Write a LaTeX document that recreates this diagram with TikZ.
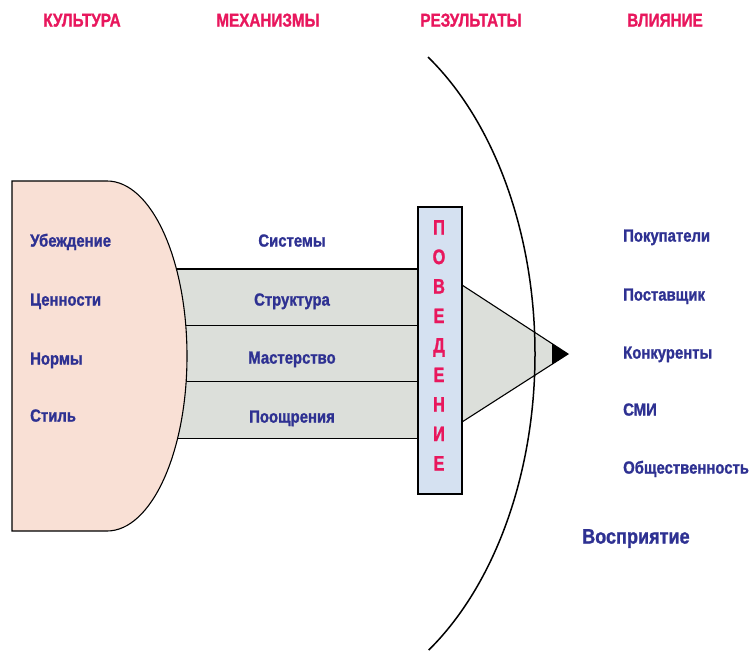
\documentclass[tikz,border=0pt]{standalone}
\usepackage{fontspec}
\setmainfont{Liberation Sans}
\newfontfamily\headf{Liberation Sans Bold}[FakeStretch=0.82,FakeBold=1.2]
\newfontfamily\bodyf{Liberation Sans Bold}[FakeStretch=0.85,FakeBold=1.2]
\newfontfamily\bigf{Liberation Sans Bold}[FakeStretch=0.86,FakeBold=1.2]
\newfontfamily\letf{Liberation Sans Bold}[FakeStretch=0.78,FakeBold=1.2]
\definecolor{hdrpink}{HTML}{E8175D}
\definecolor{txtblue}{HTML}{2E3192}
\definecolor{cultfill}{HTML}{F9E0D5}
\definecolor{bandfill}{HTML}{DCDFDA}
\definecolor{boxblue}{HTML}{D5E1F1}
\tikzset{
  hdr/.style={text=hdrpink, inner sep=0pt, text height=0.716em, text depth=0pt,
    font=\headf\fontsize{18.6}{18.6}\selectfont},
  lbl/.style={text=txtblue, inner sep=0pt, text height=0.716em, text depth=0pt,
    font=\bodyf\fontsize{17.5}{17.5}\selectfont},
  biglbl/.style={lbl, font=\bigf\fontsize{21}{21}\selectfont},
  letter/.style={text=hdrpink, inner sep=0pt, text height=0.716em, text depth=0pt,
    font=\letf\fontsize{21}{21}\selectfont},
  band/.style={draw=black, line width=1.1pt, fill=bandfill, inner sep=0pt,
    minimum width=244pt, minimum height=57pt},
  outline/.style={draw=black, line width=1.1pt},
}
\begin{document}
\begin{tikzpicture}[x=1pt,y=-1pt]
\useasboundingbox (0,0) rectangle (753,651);
% headers
\node[hdr] (hculture) at (82,23) {КУЛЬТУРА};
\node[hdr] (hmech) at (268,23) {МЕХАНИЗМЫ};
\node[hdr] (hres) at (471,23) {РЕЗУЛЬТАТЫ};
\node[hdr] (hinf) at (665,23) {ВЛИЯНИЕ};
% bands
\node[band] (band1) at (297,297.5) {};
\node[band] (band2) at (297,354) {};
\node[band] (band3) at (297,410) {};
% culture shape
\draw[outline, fill=cultfill] (12,181) -- (107,181)
  arc[start angle=-90, end angle=90, x radius=80, y radius=175]
  -- (12,531) -- cycle;
% triangle
\coordinate (apex) at (568,354);
\coordinate (ttop) at (462,285);
\coordinate (tbot) at (462,422);
\draw[outline, fill=bandfill] (ttop) -- (apex) -- (tbot) -- cycle;
% arc
\draw[black, line width=1.5pt] (428,57)
  arc[start angle=-57, end angle=56.8, x radius=235, y radius=354];
% black tip
\coordinate (tipa) at (552,343.6);
\coordinate (tipb) at (552,364.4);
\fill[black] (tipa) -- (apex) -- (tipb) -- cycle;
% behaviour box
\node[outline, fill=boxblue, minimum width=44pt, minimum height=287pt, inner sep=0pt] (beh) at (440,350.5) {};
\foreach \l [count=\i from 0] in {П,О,В,Е,Д,Е,Н,И,Е}
  \node[letter] (let\i) at (439,231+29.5*\i) {\l};
% culture labels
\node[lbl, anchor=west] (c1) at (30,243) {Убеждение};
\node[lbl, anchor=west] (c2) at (30,302) {Ценности};
\node[lbl, anchor=west] (c3) at (30,361) {Нормы};
\node[lbl, anchor=west] (c4) at (30,418) {Стиль};
% mechanism labels
\node[lbl] (m1) at (292,243) {Системы};
\node[lbl] (m2) at (292,302) {Структура};
\node[lbl] (m3) at (292,360) {Мастерство};
\node[lbl] (m4) at (292,419) {Поощрения};
% influence labels
\node[lbl, anchor=west] (i1) at (623,238) {Покупатели};
\node[lbl, anchor=west] (i2) at (623,297) {Поставщик};
\node[lbl, anchor=west] (i3) at (623,355) {Конкуренты};
\node[lbl, anchor=west] (i4) at (623,412) {СМИ};
\node[lbl, anchor=west] (i5) at (623,470) {Общественность};
\node[biglbl, anchor=west] (perc) at (582,540) {Восприятие};
\end{tikzpicture}
\end{document}
